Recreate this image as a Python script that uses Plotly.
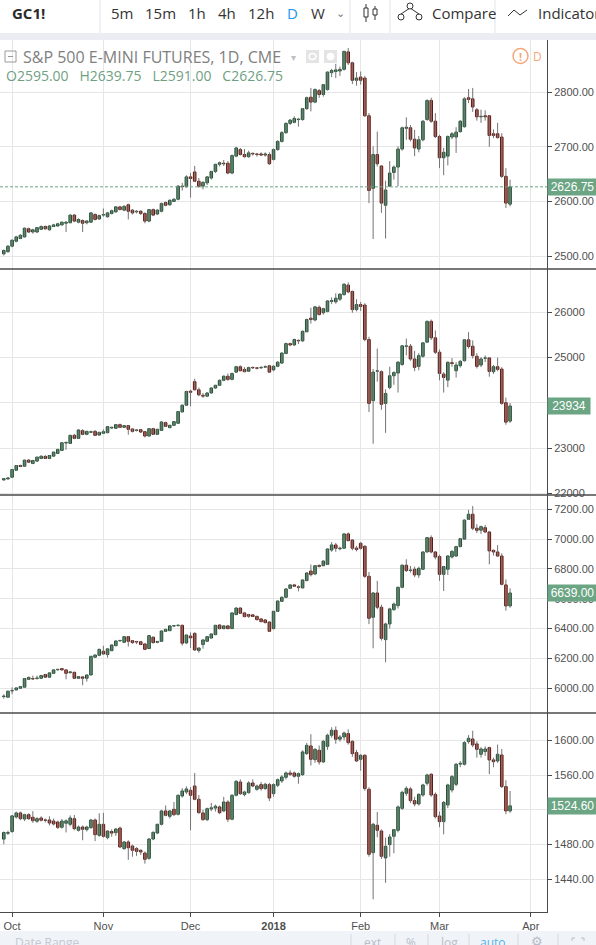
import pandas as pd
import plotly.graph_objects as go

# ---------------------------------------------------------------------------
# Data: daily bars, 28 Sep 2017 - 26 Mar 2018 (exchange holidays skipped)
# ---------------------------------------------------------------------------
HOLIDAYS = ["2017-11-23", "2017-12-25", "2018-01-01", "2018-01-15", "2018-02-19"]
dates = [d for d in pd.bdate_range("2017-09-28", "2018-03-26") if d.strftime("%Y-%m-%d") not in HOLIDAYS]

month_ticks = [2, 24, 45, 65, 86, 105, 127]
month_labels = ["Oct", "Nov", "Dec", "<b>2018</b>", "Feb", "Mar", "Apr"]

# S&P 500 E-mini
es_open = [2504, 2508, 2518, 2527, 2532, 2535, 2550, 2544, 2544, 2549,
           2554, 2548, 2554, 2555, 2557, 2560, 2561, 2575, 2562, 2565,
           2561, 2562, 2576, 2568, 2575, 2572, 2578, 2581, 2590, 2584,
           2594, 2584, 2581, 2582, 2578, 2564, 2585, 2577, 2582, 2598,
           2594, 2600, 2604, 2628, 2627, 2645, 2654, 2637, 2628, 2634,
           2643, 2655, 2668, 2670, 2670, 2652, 2683, 2695, 2686, 2682,
           2688, 2687, 2687, 2685, 2686, 2677, 2695, 2710, 2726, 2743,
           2745, 2750, 2750, 2770, 2791, 2782, 2803, 2796, 2805, 2836,
           2838, 2839, 2842, 2874, 2854, 2822, 2828, 2826, 2757, 2624,
           2686, 2665, 2593, 2628, 2653, 2663, 2696, 2734, 2735, 2714,
           2696, 2713, 2750, 2785, 2747, 2719, 2680, 2683, 2718, 2718,
           2728, 2737, 2790, 2788, 2768, 2755, 2757, 2757, 2724, 2724,
           2718, 2646, 2595]
es_high = [2512, 2520, 2530, 2537, 2540, 2552, 2552, 2550, 2553, 2556,
           2556, 2557, 2559, 2561, 2563, 2564, 2576, 2577, 2569, 2567,
           2566, 2580, 2578, 2576, 2587, 2581, 2585, 2591, 2592, 2593,
           2596, 2586, 2584, 2584, 2580, 2586, 2587, 2586, 2598, 2600,
           2604, 2606, 2630, 2634, 2648, 2652, 2665, 2643, 2637, 2646,
           2656, 2669, 2673, 2676, 2674, 2686, 2700, 2698, 2696, 2693,
           2690, 2689, 2690, 2690, 2690, 2697, 2712, 2729, 2745, 2751,
           2756, 2753, 2771, 2792, 2808, 2807, 2806, 2815, 2838, 2843,
           2852, 2847, 2876, 2881, 2856, 2837, 2838, 2830, 2762, 2701,
           2728, 2666, 2638, 2674, 2666, 2701, 2737, 2754, 2740, 2731,
           2720, 2749, 2787, 2790, 2762, 2722, 2698, 2721, 2727, 2736,
           2749, 2791, 2806, 2808, 2771, 2768, 2767, 2758, 2732, 2744,
           2725, 2661, 2639.75]
es_low = [2501, 2506, 2516, 2525, 2531, 2534, 2542, 2541, 2542, 2548,
          2548, 2547, 2553, 2554, 2556, 2544, 2560, 2562, 2560, 2544,
          2558, 2561, 2565, 2566, 2572, 2570, 2576, 2579, 2584, 2582,
          2567, 2576, 2578, 2575, 2560, 2562, 2573, 2575, 2580, 2591,
          2592, 2599, 2602, 2620, 2625, 2607, 2636, 2625, 2622, 2630,
          2640, 2652, 2664, 2665, 2650, 2650, 2681, 2684, 2680, 2680,
          2684, 2682, 2683, 2682, 2667, 2675, 2693, 2708, 2724, 2740,
          2743, 2737, 2748, 2768, 2765, 2780, 2790, 2792, 2803, 2828,
          2826, 2830, 2840, 2850, 2815, 2812, 2814, 2755, 2597, 2531,
          2664, 2579, 2532, 2627, 2640, 2628, 2693, 2713, 2710, 2683,
          2690, 2710, 2748, 2744, 2716, 2661, 2648, 2666, 2714, 2689,
          2726, 2735, 2780, 2764, 2748, 2744, 2748, 2700, 2716, 2715,
          2643, 2588, 2591]
es_close = [2510, 2518, 2529, 2535, 2538, 2551, 2544, 2548, 2552, 2554,
            2550, 2555, 2557, 2559, 2562, 2562, 2575, 2564, 2567, 2560,
            2564, 2579, 2567, 2574, 2576, 2579, 2583, 2590, 2585, 2591,
            2582, 2579, 2582, 2578, 2564, 2585, 2575, 2584, 2596, 2593,
            2602, 2604, 2628, 2627, 2645, 2642, 2637, 2628, 2635, 2645,
            2655, 2668, 2671, 2669, 2652, 2684, 2698, 2686, 2682, 2689,
            2687, 2686, 2685, 2687, 2669, 2695, 2710, 2726, 2743, 2749,
            2752, 2750, 2770, 2790, 2782, 2805, 2796, 2814, 2837, 2840,
            2841, 2842, 2875, 2854, 2822, 2826, 2822, 2757, 2620, 2686,
            2669, 2597, 2621, 2652, 2663, 2696, 2735, 2736, 2714, 2698,
            2713, 2747, 2785, 2747, 2719, 2680, 2690, 2719, 2724, 2727,
            2747, 2788, 2787, 2773, 2755, 2756, 2755, 2721, 2721, 2717,
            2646, 2597, 2626.75]

# Dow futures
ym_open = [22303, 22325, 22362, 22517, 22620, 22605, 22739, 22665, 22717, 22776,
           22820, 22776, 22827, 22887, 22953, 23116, 23108, 23286, 23219, 23389,
           23308, 23352, 23374, 23293, 23330, 23345, 23448, 23441, 23522, 23463,
           23500, 23426, 23395, 23411, 23367, 23271, 23433, 23308, 23396, 23566,
           23456, 23507, 23552, 23803, 23951, 24260, 24470, 24290, 24170, 24150,
           24220, 24330, 24390, 24500, 24590, 24520, 24680, 24800, 24740, 24700,
           24780, 24770, 24775, 24790, 24820, 24730, 24810, 24880, 25090, 25310,
           25280, 25380, 25370, 25570, 25870, 25830, 26110, 25990, 26020, 26240,
           26230, 26290, 26390, 26600, 26460, 26060, 26170, 26160, 25400, 24050,
           24700, 24690, 23990, 24340, 24600, 24660, 24850, 25250, 25252, 24970,
           24807, 25030, 25341, 25800, 25437, 25119, 24637, 24504, 24890, 24711,
           24822, 24933, 25393, 25252, 25030, 24837, 24985, 24993, 24689, 24800,
           24748, 24007, 23600]
ym_high = [22345, 22360, 22545, 22630, 22640, 22750, 22760, 22745, 22815, 22840,
           22850, 22850, 22925, 22990, 23135, 23150, 23300, 23320, 23420, 23420,
           23385, 23390, 23400, 23365, 23420, 23490, 23475, 23535, 23545, 23510,
           23515, 23440, 23420, 23425, 23380, 23445, 23450, 23430, 23595, 23590,
           23520, 23600, 23820, 23965, 24270, 24290, 24534, 24340, 24220, 24240,
           24345, 24400, 24520, 24610, 24650, 24670, 24820, 24830, 24790, 24800,
           24800, 24790, 24810, 24830, 24840, 24830, 24920, 25120, 25330, 25330,
           25420, 25400, 25600, 25860, 26100, 26140, 26150, 26100, 26270, 26330,
           26420, 26420, 26640, 26660, 26480, 26290, 26230, 26200, 25460, 24750,
           25200, 24720, 24300, 24800, 24700, 24920, 25280, 25420, 25300, 25150,
           25100, 25340, 25820, 25840, 25600, 25180, 24680, 24920, 24990, 24900,
           24950, 25410, 25563, 25380, 25100, 25010, 25050, 25010, 24840, 25000,
           24790, 24120, 24000]
ym_low = [22285, 22310, 22355, 22510, 22585, 22595, 22680, 22650, 22705, 22765,
          22765, 22760, 22815, 22880, 22940, 22968, 23095, 23200, 23210, 23290,
          23290, 23335, 23270, 23280, 23315, 23330, 23430, 23430, 23450, 23450,
          23300, 23350, 23370, 23340, 23240, 23260, 23295, 23295, 23385, 23470,
          23440, 23495, 23540, 23790, 23940, 23925, 24280, 24150, 24110, 24130,
          24210, 24310, 24380, 24480, 24490, 24500, 24670, 24700, 24680, 24690,
          24750, 24740, 24750, 24770, 24660, 24700, 24790, 24870, 25080, 25250,
          25260, 25300, 25350, 25560, 25750, 25800, 25930, 25950, 26000, 26180,
          26190, 26250, 26370, 26420, 25990, 26020, 26030, 25360, 23800, 23100,
          24470, 23850, 23340, 24300, 24400, 24230, 24820, 25050, 24930, 24700,
          24720, 25000, 25320, 25390, 25080, 24500, 24229, 24350, 24800, 24560,
          24780, 24910, 25200, 24980, 24760, 24790, 24900, 24580, 24640, 24700,
          23960, 23520, 23560]
ym_close = [22332, 22347, 22532, 22620, 22598, 22739, 22694, 22731, 22805, 22827,
            22776, 22842, 22916, 22975, 23123, 23130, 23286, 23219, 23404, 23308,
            23374, 23367, 23286, 23352, 23367, 23478, 23463, 23522, 23463, 23500,
            23419, 23374, 23400, 23359, 23271, 23433, 23308, 23419, 23581, 23485,
            23507, 23589, 23810, 23951, 24254, 24236, 24290, 24180, 24150, 24220,
            24330, 24390, 24500, 24590, 24520, 24650, 24800, 24710, 24690, 24780,
            24775, 24765, 24780, 24800, 24680, 24810, 24900, 25100, 25310, 25280,
            25400, 25370, 25580, 25840, 25840, 26120, 25950, 26080, 26250, 26260,
            26310, 26400, 26620, 26450, 26060, 26170, 26130, 25400, 23990, 24680,
            24710, 23970, 24210, 24600, 24670, 24900, 25260, 25250, 24970, 24785,
            25044, 25326, 25800, 25437, 25119, 24652, 24563, 24896, 24870, 24837,
            24918, 25393, 25245, 25044, 24807, 24970, 24993, 24696, 24800, 24741,
            23992, 23577, 23934]

# Nasdaq 100 futures
nq_open = [5944, 5940, 5982, 5989, 6000, 6007, 6060, 6064, 6065, 6067,
           6092, 6074, 6100, 6124, 6132, 6123, 6105, 6107, 6067, 6076,
           6067, 6089, 6208, 6221, 6248, 6226, 6252, 6286, 6318, 6308,
           6346, 6319, 6312, 6312, 6297, 6266, 6342, 6308, 6315, 6382,
           6386, 6417, 6420, 6422, 6304, 6350, 6368, 6253, 6293, 6315,
           6337, 6360, 6424, 6400, 6418, 6400, 6494, 6538, 6505, 6494,
           6492, 6482, 6465, 6458, 6444, 6400, 6516, 6583, 6610, 6670,
           6693, 6680, 6673, 6722, 6786, 6766, 6824, 6822, 6831, 6927,
           6961, 6935, 6939, 7035, 6994, 6940, 6972, 6952, 6751, 6476,
           6639, 6543, 6326, 6431, 6527, 6554, 6677, 6825, 6790, 6798,
           6760, 6798, 6914, 7010, 6914, 6883, 6764, 6798, 6880, 6887,
           6950, 7000, 7133, 7167, 7073, 7060, 7077, 7048, 6925, 6914,
           6887, 6693, 6552]
nq_high = [5960, 5985, 6006, 6005, 6014, 6068, 6078, 6085, 6085, 6090,
           6096, 6106, 6126, 6130, 6135, 6128, 6115, 6110, 6082, 6080,
           6092, 6218, 6226, 6265, 6285, 6268, 6294, 6320, 6322, 6350,
           6350, 6322, 6318, 6318, 6300, 6356, 6348, 6316, 6387, 6398,
           6421, 6424, 6428, 6426, 6360, 6375, 6375, 6272, 6327, 6349,
           6367, 6425, 6428, 6422, 6425, 6508, 6542, 6541, 6512, 6499,
           6496, 6486, 6470, 6462, 6450, 6518, 6588, 6615, 6670, 6696,
           6700, 6690, 6730, 6777, 6830, 6826, 6830, 6857, 6938, 6980,
           6975, 6950, 7040, 7045, 7000, 6955, 6980, 6960, 6780, 6645,
           6720, 6560, 6440, 6540, 6575, 6682, 6830, 6865, 6820, 6815,
           6815, 6918, 7015, 7025, 6920, 6895, 6820, 6892, 6925, 6955,
           7008, 7132, 7196, 7222, 7100, 7090, 7095, 7055, 6930, 6960,
           6905, 6730, 6670]
nq_low = [5930, 5935, 5960, 5985, 5996, 6004, 6056, 6055, 6058, 6064,
          6070, 6070, 6097, 6118, 6120, 6060, 6098, 6063, 6063, 6020,
          6045, 6087, 6204, 6215, 6226, 6205, 6248, 6280, 6312, 6305,
          6280, 6298, 6296, 6290, 6258, 6264, 6300, 6302, 6313, 6380,
          6384, 6412, 6414, 6286, 6296, 6270, 6250, 6238, 6265, 6310,
          6332, 6355, 6395, 6395, 6395, 6398, 6490, 6498, 6476, 6472,
          6478, 6455, 6442, 6436, 6378, 6395, 6512, 6578, 6605, 6665,
          6680, 6650, 6670, 6718, 6750, 6762, 6810, 6818, 6828, 6915,
          6915, 6925, 6936, 6985, 6925, 6918, 6930, 6740, 6430, 6268,
          6530, 6320, 6174, 6400, 6520, 6535, 6670, 6780, 6775, 6745,
          6740, 6795, 6910, 6905, 6865, 6720, 6652, 6760, 6870, 6880,
          6945, 6995, 7128, 7060, 7040, 7035, 7040, 6831, 6890, 6880,
          6690, 6520, 6540]
nq_close = [5948, 5980, 5984, 6002, 6011, 6065, 6073, 6062, 6069, 6085,
            6074, 6103, 6123, 6125, 6123, 6100, 6110, 6067, 6078, 6067,
            6089, 6214, 6223, 6261, 6230, 6264, 6290, 6317, 6319, 6346,
            6315, 6306, 6310, 6293, 6261, 6353, 6306, 6314, 6384, 6395,
            6418, 6418, 6422, 6302, 6357, 6338, 6257, 6270, 6324, 6346,
            6364, 6422, 6400, 6418, 6400, 6505, 6538, 6503, 6480, 6483,
            6481, 6460, 6447, 6440, 6382, 6516, 6585, 6610, 6666, 6693,
            6684, 6677, 6726, 6773, 6762, 6822, 6817, 6853, 6934, 6961,
            6939, 6940, 7035, 6990, 6939, 6930, 6939, 6751, 6469, 6639,
            6543, 6335, 6431, 6532, 6565, 6677, 6825, 6789, 6793, 6760,
            6804, 6914, 7010, 6914, 6880, 6764, 6816, 6887, 6918, 6950,
            7003, 7128, 7167, 7073, 7059, 7084, 7048, 6921, 6914, 6887,
            6697, 6552, 6639]

# Russell 2000 futures
rty_open = [1486.3, 1493.0, 1495.0, 1511.7, 1516.4, 1509.4, 1514.4, 1511.4, 1506.8, 1510.6,
            1508.0, 1508.3, 1507.1, 1506.0, 1499.9, 1504.5, 1503.3, 1509.8, 1496.4, 1500.2,
            1497.2, 1499.5, 1508.3, 1490.6, 1503.3, 1488.0, 1495.0, 1493.7, 1499.0, 1475.3,
            1483.0, 1478.3, 1475.3, 1473.4, 1470.3, 1464.2, 1486.4, 1493.3, 1503.3, 1518.7,
            1512.5, 1520.6, 1514.8, 1535.9, 1540.5, 1542.4, 1547.4, 1532.1, 1516.4, 1508.7,
            1521.0, 1522.0, 1523.3, 1518.7, 1529.0, 1509.1, 1536.7, 1552.0, 1537.5, 1539.8,
            1550.9, 1543.6, 1549.0, 1544.4, 1549.0, 1538.6, 1548.2, 1553.2, 1557.4, 1562.4,
            1562.4, 1558.6, 1560.5, 1584.7, 1593.5, 1577.7, 1588.5, 1575.1, 1593.0, 1605.8,
            1611.5, 1601.2, 1603.8, 1607.7, 1598.8, 1585.8, 1578.1, 1582.7, 1543.6, 1470.7,
            1502.2, 1495.6, 1464.6, 1479.9, 1489.5, 1496.4, 1521.7, 1539.0, 1544.0, 1530.6,
            1526.7, 1537.0, 1550.5, 1560.9, 1537.8, 1512.9, 1506.4, 1525.6, 1542.8, 1549.3,
            1572.5, 1572.4, 1598.5, 1601.5, 1595.8, 1583.9, 1587.0, 1591.6, 1577.4, 1576.2,
            1583.1, 1546.7, 1518.7]
rty_high = [1495.0, 1496.0, 1514.0, 1518.0, 1518.0, 1515.5, 1516.0, 1518.5, 1511.5, 1512.5,
            1510.0, 1512.5, 1510.0, 1507.5, 1509.5, 1509.0, 1513.5, 1514.0, 1502.0, 1502.0,
            1501.5, 1509.5, 1510.0, 1516.0, 1516.5, 1496.0, 1497.5, 1499.0, 1500.5, 1484.0,
            1485.0, 1480.0, 1477.0, 1474.5, 1472.0, 1487.5, 1495.0, 1504.0, 1520.0, 1525.0,
            1519.5, 1529.0, 1537.5, 1545.0, 1547.0, 1546.0, 1562.4, 1537.0, 1520.0, 1522.5,
            1528.0, 1526.0, 1525.0, 1535.0, 1531.0, 1538.0, 1554.0, 1555.0, 1542.0, 1553.0,
            1555.0, 1549.0, 1552.0, 1551.0, 1551.0, 1550.5, 1556.0, 1560.0, 1564.0, 1565.5,
            1564.0, 1563.0, 1588.5, 1597.0, 1607.0, 1591.0, 1594.0, 1600.5, 1607.5, 1615.0,
            1616.0, 1606.0, 1610.0, 1612.5, 1600.0, 1589.0, 1584.0, 1584.0, 1546.0, 1505.0,
            1517.5, 1497.5, 1488.0, 1492.0, 1498.0, 1525.0, 1542.0, 1547.0, 1546.0, 1535.0,
            1539.0, 1550.0, 1561.5, 1562.0, 1540.0, 1518.0, 1530.0, 1550.0, 1560.0, 1574.0,
            1576.0, 1599.0, 1606.0, 1611.0, 1599.0, 1592.0, 1593.0, 1592.5, 1580.0, 1595.0,
            1590.0, 1554.0, 1541.7]
rty_low = [1480.5, 1491.0, 1493.5, 1510.0, 1508.0, 1507.0, 1508.5, 1505.0, 1505.0, 1506.5,
           1505.5, 1502.0, 1502.0, 1498.0, 1498.5, 1494.0, 1501.0, 1496.5, 1495.0, 1485.0,
           1495.0, 1498.0, 1484.0, 1489.0, 1488.0, 1486.0, 1489.0, 1490.0, 1476.0, 1474.0,
           1462.5, 1466.0, 1467.0, 1468.0, 1458.0, 1462.5, 1485.0, 1492.0, 1502.0, 1512.5,
           1510.0, 1513.0, 1513.5, 1534.0, 1538.0, 1496.4, 1531.0, 1515.5, 1507.5, 1507.0,
           1518.5, 1518.0, 1515.0, 1517.5, 1506.0, 1508.0, 1535.5, 1537.0, 1535.5, 1538.5,
           1546.0, 1542.0, 1542.0, 1543.0, 1530.0, 1535.0, 1546.0, 1551.0, 1555.0, 1559.0,
           1557.0, 1550.0, 1559.0, 1583.0, 1571.0, 1574.0, 1572.0, 1574.0, 1589.0, 1603.0,
           1596.0, 1598.5, 1600.0, 1595.0, 1581.0, 1575.0, 1565.0, 1542.0, 1466.0, 1417.0,
           1488.5, 1463.5, 1436.0, 1466.0, 1470.0, 1494.0, 1520.0, 1536.0, 1528.0, 1524.0,
           1525.0, 1535.0, 1548.0, 1535.0, 1510.0, 1500.0, 1491.8, 1522.0, 1540.0, 1547.0,
           1569.0, 1571.0, 1596.0, 1592.0, 1580.0, 1580.0, 1582.0, 1561.0, 1569.0, 1574.0,
           1545.0, 1515.0, 1516.5]
rty_close = [1493.9, 1493.9, 1513.0, 1516.4, 1509.8, 1514.4, 1509.8, 1507.5, 1509.8, 1508.0,
             1507.9, 1504.8, 1503.7, 1499.8, 1507.1, 1507.3, 1510.6, 1498.3, 1500.2, 1497.6,
             1500.2, 1508.3, 1491.4, 1503.3, 1489.5, 1495.6, 1493.2, 1497.9, 1477.2, 1483.0,
             1476.4, 1473.4, 1472.2, 1471.5, 1463.0, 1486.4, 1494.1, 1503.3, 1518.7, 1513.7,
             1518.7, 1514.4, 1536.7, 1541.7, 1544.0, 1536.7, 1532.1, 1516.7, 1508.7, 1521.3,
             1522.3, 1524.1, 1516.7, 1529.0, 1509.1, 1536.7, 1552.8, 1538.6, 1540.5, 1550.9,
             1547.4, 1547.4, 1544.4, 1549.4, 1533.6, 1549.0, 1554.7, 1557.8, 1562.4, 1560.8,
             1558.6, 1561.6, 1586.6, 1594.2, 1578.1, 1589.6, 1575.1, 1598.8, 1605.8, 1611.5,
             1601.2, 1603.8, 1608.4, 1597.3, 1584.7, 1576.2, 1582.7, 1544.4, 1468.8, 1503.3,
             1496.4, 1466.5, 1478.0, 1488.7, 1497.2, 1523.3, 1540.1, 1544.7, 1530.6, 1526.7,
             1537.8, 1548.6, 1560.1, 1537.0, 1512.1, 1506.4, 1528.6, 1548.6, 1558.2, 1572.4,
             1573.5, 1597.3, 1602.3, 1594.6, 1589.6, 1590.0, 1590.0, 1577.4, 1575.4, 1583.9,
             1546.7, 1518.7, 1524.6]

# ---------------------------------------------------------------------------
# Layout constants (pixels of the 596x945 page)
# ---------------------------------------------------------------------------
W, H = 596, 945
AXIS_X = 547           # price scale line
TOP, BOTTOM = 40, 912  # plotting area

UP, DOWN = "#4f9467", "#cd4333"
UP_EDGE, DOWN_EDGE = "#1f4d31", "#5b1a13"
LABEL = "#6ba583"
WICK = "#737375"
GRID = "#e6e6e6"
AXIS = "#4a4a4a"
TEXT = "#4f4f4f"
UI_FONT = "Open Sans, Lato, sans-serif"
AXIS_FONT = "Liberation Sans, Arial, sans-serif"


def px(x):
    return x / AXIS_X


def py(y):
    return (BOTTOM - y) / (BOTTOM - TOP)


PANELS = [
    dict(o=es_open, h=es_high, l=es_low, c=es_close, top=40, bottom=269,
         rng=[2476.2, 2895.8], dtick=100, fmt=".2f", lw=47),
    dict(o=ym_open, h=ym_high, l=ym_low, c=ym_close, top=269, bottom=495,
         rng=[21970, 26955], dtick=1000, fmt="d", lw=40),
    dict(o=nq_open, h=nq_high, l=nq_low, c=nq_close, top=495, bottom=713,
         rng=[5834, 7296], dtick=200, fmt=".2f", lw=47),
    dict(o=rty_open, h=rty_high, l=rty_low, c=rty_close, top=713, bottom=912,
         rng=[1402.4, 1631.4], dtick=40, fmt=".2f", lw=47),
]

fig = go.Figure()
annotations, shapes = [], []
layout_axes = {}
xs = list(range(len(dates)))
hover = [d.strftime("%b %d, %Y") for d in dates]

for k, p in enumerate(PANELS, start=1):
    yref = "y" if k == 1 else f"y{k}"
    # wicks
    wx, wy = [], []
    for i in xs:
        wx += [i, i, None]
        wy += [p["l"][i], p["h"][i], None]
    fig.add_trace(go.Scatter(x=wx, y=wy, mode="lines", yaxis=yref,
                             line=dict(color=WICK, width=1), hoverinfo="skip"))
    # bodies
    min_h = (p["rng"][1] - p["rng"][0]) * 0.002
    base = [min(o, c) for o, c in zip(p["o"], p["c"])]
    size = [max(abs(c - o), min_h) for o, c in zip(p["o"], p["c"])]
    up = [c >= o for o, c in zip(p["o"], p["c"])]
    fig.add_trace(go.Bar(
        x=xs, y=size, base=base, yaxis=yref, width=0.62,
        marker=dict(color=[UP if u else DOWN for u in up],
                    line=dict(color=[UP_EDGE if u else DOWN_EDGE for u in up], width=1)),
        hovertext=hover, hoverinfo="text",
    ))
    layout_axes["yaxis" if k == 1 else f"yaxis{k}"] = dict(
        domain=[py(p["bottom"]), py(p["top"])], range=p["rng"], side="right",
        anchor="x", dtick=p["dtick"], tick0=0, tickformat=p["fmt"],
        showgrid=True, gridcolor=GRID, zeroline=False,
        showline=True, linecolor=AXIS, linewidth=1,
        ticks="outside", ticklen=4, tickcolor=AXIS,
        tickfont=dict(family=AXIS_FONT, size=11, color=TEXT), fixedrange=True,
    )
    # last price label on the scale
    last = p["c"][-1]
    annotations.append(dict(
        xref="paper", yref=yref, x=1, y=last, xanchor="left", yanchor="middle",
        text=format(last, p["fmt"]), showarrow=False, bgcolor=LABEL, width=p["lw"],
        height=14, borderpad=1, font=dict(family=AXIS_FONT, size=12, color="white"),
    ))
    # pane separator
    if k > 1:
        shapes.append(dict(type="line", xref="paper", yref="paper", x0=0, x1=px(W),
                           y0=py(p["top"]), y1=py(p["top"]), line=dict(color=AXIS, width=1.5)))

# dotted last price line on the main pane
shapes.append(dict(type="line", xref="paper", yref="y", x0=0, x1=1,
                   y0=es_close[-1], y1=es_close[-1],
                   line=dict(color=LABEL, width=1, dash="3px,2px")))


def text(x, y, s, size=14, color="#333333", anchor="left", family=UI_FONT):
    annotations.append(dict(xref="paper", yref="paper", x=px(x), y=py(y), text=s,
                            showarrow=False, xanchor=anchor, yanchor="middle",
                            font=dict(family=family, size=size, color=color)))


def rect(x0, y0, x1, y1, fill=None, line=None, width=1):
    shapes.append(dict(type="rect", xref="paper", yref="paper",
                       x0=px(x0), x1=px(x1), y0=py(y0), y1=py(y1),
                       fillcolor=fill or "rgba(0,0,0,0)",
                       line=dict(color=line or "rgba(0,0,0,0)", width=width)))


def seg(x0, y0, x1, y1, color, width=1):
    shapes.append(dict(type="line", xref="paper", yref="paper",
                       x0=px(x0), x1=px(x1), y0=py(y0), y1=py(y1),
                       line=dict(color=color, width=width)))


# ---- top toolbar -----------------------------------------------------------
rect(0, 33, W, 40, fill="#eaedf1")
for sx in [100, 350, 390, 495]:
    seg(sx, 0, sx, 33, "#e0e3eb")
text(10, 13, "<b>GC1!</b>", size=15, color="#2b2b2b")
for cx, lab in [(121.5, "5m"), (160.5, "15m"), (196.5, "1h"), (226.5, "4h"), (261, "12h"), (318, "W")]:
    text(cx, 13, lab, size=15, color="#333333", anchor="center")
text(292, 13, "D", size=15, color="#2196f3", anchor="center")
text(340, 12, "⌄", size=11, color="#777777", anchor="center")
# candle icon
seg(366, 4, 366, 22, "#333333")
rect(364, 8, 368, 17, fill="white", line="#333333")
seg(375, 6, 375, 20, "#333333")
rect(373, 9, 377, 15, fill="white", line="#333333")
# compare icon
seg(401, 14, 410, 8, "#333333")
seg(410, 8, 419, 14, "#333333")
for cx, cy in [(401, 17), (410, 6), (419, 17)]:
    shapes.append(dict(type="circle", xref="paper", yref="paper",
                       x0=px(cx - 3), x1=px(cx + 3), y0=py(cy - 3), y1=py(cy + 3),
                       line=dict(color="#333333", width=1), fillcolor="white"))
text(430, 13, "Compare", size=15, color="#333333")
# indicators icon
shapes.append(dict(type="path", xref="paper", yref="paper",
                   path=f"M {px(508)},{py(16)} L {px(514)},{py(10)} L {px(520)},{py(15)} L {px(527)},{py(10)}",
                   line=dict(color="#333333", width=1)))
text(536, 13, "Indicators", size=15, color="#333333")

# ---- main pane legend ------------------------------------------------------
rect(5, 51, 16, 62, line="#9a9a9a")
seg(8, 56.5, 13, 56.5, "#9a9a9a")
text(21, 57, "S&P 500 E-MINI FUTURES, 1D, CME", size=16, color="#808080")
text(293, 57, "▾", size=10, color="#c0c0c0", anchor="center")
rect(306, 50, 319, 63, fill="#e4e4e4")
rect(324, 50, 337, 63, fill="#e4e4e4")
shapes.append(dict(type="circle", xref="paper", yref="paper", x0=px(309), x1=px(316),
                   y0=py(53.5), y1=py(59.5), line=dict(color="white", width=1.5)))
shapes.append(dict(type="circle", xref="paper", yref="paper", x0=px(327), x1=px(334),
                   y0=py(53), y1=py(60), fillcolor="white", line=dict(color="white", width=1)))
ohlc = (f"O{es_open[-1]:.2f}   H{es_high[-1]:.2f}   "
        f"L{es_low[-1]:.2f}   C{es_close[-1]:.2f}")
text(4, 76, ohlc, size=14, color="#6f9f83")
shapes.append(dict(type="circle", xref="paper", yref="paper", x0=px(513), x1=px(528),
                   y0=py(48.5), y1=py(63.5), line=dict(color="#f6a77a", width=1.5)))
text(520.5, 56, "<b>!</b>", size=11, color="#f6a77a", anchor="center")
text(537, 56, "D", size=12, color="#f6a77a", anchor="center")

# ---- bottom date range bar -------------------------------------------------
rect(0, 931, W, 946, fill="#f0f3f8")
for sx in [351, 395, 428, 469, 518, 558]:
    seg(sx, 934, sx, 946, "#d6dae2")
text(13, 942, "Date Range", size=12, color="#c3c8d1")
text(372, 942, "ext", size=12, color="#b8bec8", anchor="center")
text(411, 942, "%", size=12, color="#b8bec8", anchor="center")
text(449, 942, "log", size=12, color="#b8bec8", anchor="center")
text(493, 942, "auto", size=12, color="#4fb3e8", anchor="center")
text(537, 941, "⚙", size=13, color="#b8bec8", anchor="center")
for a, b, c, d in [(572, 938, 575, 938), (572, 938, 572, 941), (584, 938, 581, 938), (584, 938, 584, 941)]:
    seg(a, b, c, d, "#b8bec8")

fig.update_layout(
    width=W, height=H,
    margin=dict(l=0, r=W - AXIS_X, t=TOP, b=H - BOTTOM),
    paper_bgcolor="white", plot_bgcolor="white",
    showlegend=False, barmode="overlay", hovermode="closest",
    xaxis=dict(range=[-0.916, 130.9], tickvals=month_ticks, ticktext=month_labels,
               showgrid=True, gridcolor=GRID, zeroline=False, anchor="y4",
               showline=True, linecolor=AXIS, linewidth=1,
               ticks="outside", ticklen=4, tickcolor=AXIS,
               tickfont=dict(family=AXIS_FONT, size=11, color=TEXT), fixedrange=True),
    annotations=annotations, shapes=shapes,
    **layout_axes,
)

# the page body has a default 8px margin; drop it so the chart fills the window
fig.write_html("out.html", config={"displayModeBar": False},
               post_script="document.body.style.margin='0px';")
